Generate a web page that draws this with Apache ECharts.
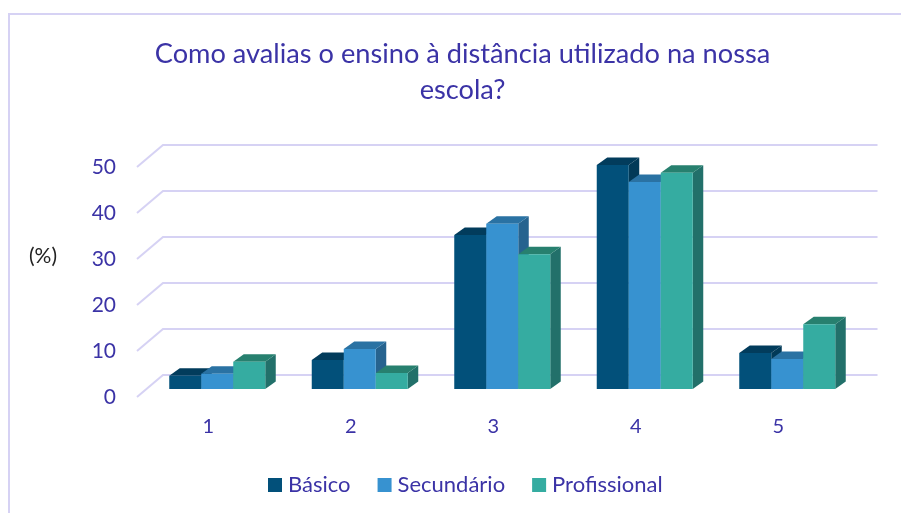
<!DOCTYPE html>
<html><head><meta charset="utf-8">
<style>html,body{margin:0;padding:0;background:#fff}#c{width:901px;height:513px}</style>
<script src="https://cdn.jsdelivr.net/npm/echarts@6/dist/echarts.min.js"></script>
</head><body><div id="c"></div>
<script>
const categories = ['1','2','3','4','5'];
const basico = [2.9,6.3,33.5,48.7,7.8];
const secundario = [3.3,8.7,35.9,45,6.5];
const profissional = [5.9,3.5,29.3,47,14.1];
const yTicks = [0,10,20,30,40,50];
const seriesNames = ['Básico','Secundário','Profissional'];

const INK='#3b33a6', GRID='#d6d2f4';
const palette=[
 {front:'#02507a',top:'#023c5c',side:'#023a58'},
 {front:'#3792d0',top:'#2a72a3',side:'#26638f'},
 {front:'#35aca1',top:'#27806f',side:'#22706a'}
];
const WALL_DX=26, WALL_DY=22, BAR_W=32, BASE_DX=9, BASE_DY=8, DEPTH_DX=10.5, DEPTH_DY=7.5;
const chart=echarts.init(document.getElementById('c'),null,{renderer:'canvas'});
function barSeries(i,vals){
  const c=palette[i];
  return {name:seriesNames[i],type:'custom',coordinateSystem:'cartesian2d',z:3+i,silent:true,
    itemStyle:{color:c.front},encode:{x:0,y:1},
    data:vals.map((v,k)=>[categories[k],v]),
    renderItem(params,api){
      const idx=api.value(0), top=api.coord([idx,api.value(1)]), zero=api.coord([idx,0]);
      const x0=top[0]+BASE_DX+(i-1.5)*BAR_W, x1=x0+BAR_W, yt=top[1]-BASE_DY, yb=zero[1]-BASE_DY;
      return {type:'group',children:[
        {type:'polygon',shape:{points:[[x1,yb],[x1+DEPTH_DX,yb-DEPTH_DY],[x1+DEPTH_DX,yt-DEPTH_DY],[x1,yt]]},style:{fill:c.side}},
        {type:'polygon',shape:{points:[[x0,yt],[x0+DEPTH_DX,yt-DEPTH_DY],[x1+DEPTH_DX,yt-DEPTH_DY],[x1,yt]]},style:{fill:c.top}},
        {type:'rect',shape:{x:x0,y:yt,width:BAR_W,height:yb-yt},style:{fill:c.front}}
      ]};
    }};
}
chart.setOption({
  animation:false,backgroundColor:'#fff',
  title:[
    {text:'Como avalias o ensino à distância utilizado na nossa\nescola?',left:457.5,top:31,textAlign:'center',
     textStyle:{color:INK,fontFamily:'Lato',fontWeight:'normal',fontSize:27.2,lineHeight:36}},
    {text:'(%)',left:24,top:241,textStyle:{color:'#222',fontFamily:'Lato',fontWeight:'normal',fontSize:21}}
  ],
  grid:{left:137,width:712.5,top:167,height:230,containLabel:false},
  xAxis:{type:'category',data:categories,axisLine:{show:false},axisTick:{show:false},splitLine:{show:false},
    axisLabel:{color:INK,fontFamily:'Lato',fontSize:20,margin:20}},
  yAxis:{type:'value',min:0,max:50,interval:10,axisLine:{show:false},axisTick:{show:false},splitLine:{show:false},
    axisLabel:{color:INK,fontFamily:'Lato',fontSize:21,margin:21}},
  legend:{data:seriesNames,left:263,top:469,itemWidth:14,itemHeight:14,itemGap:27,icon:'rect',
    textStyle:{color:INK,fontFamily:'Lato',fontSize:22,padding:[0,0,0,1]},selectedMode:false},
  graphic:[{type:'rect',shape:{x:9,y:14,width:1000,height:1000},style:{fill:'none',stroke:GRID,lineWidth:2},silent:true,z:0}],
  series:[
    {name:'wall',type:'custom',coordinateSystem:'cartesian2d',z:1,silent:true,encode:{y:1},
     data:yTicks.map(t=>[categories[0],t]),
     renderItem(params,api){
       const p=api.coord([0,api.value(1)]), cs=params.coordSys;
       return {type:'polyline',shape:{points:[[cs.x,p[1]],[cs.x+WALL_DX,p[1]-WALL_DY],[cs.x+cs.width+WALL_DX+2,p[1]-WALL_DY]]},
         style:{fill:'none',stroke:GRID,lineWidth:2}};
     }},
    barSeries(0,basico),barSeries(1,secundario),barSeries(2,profissional)
  ]
});
</script></body></html>
